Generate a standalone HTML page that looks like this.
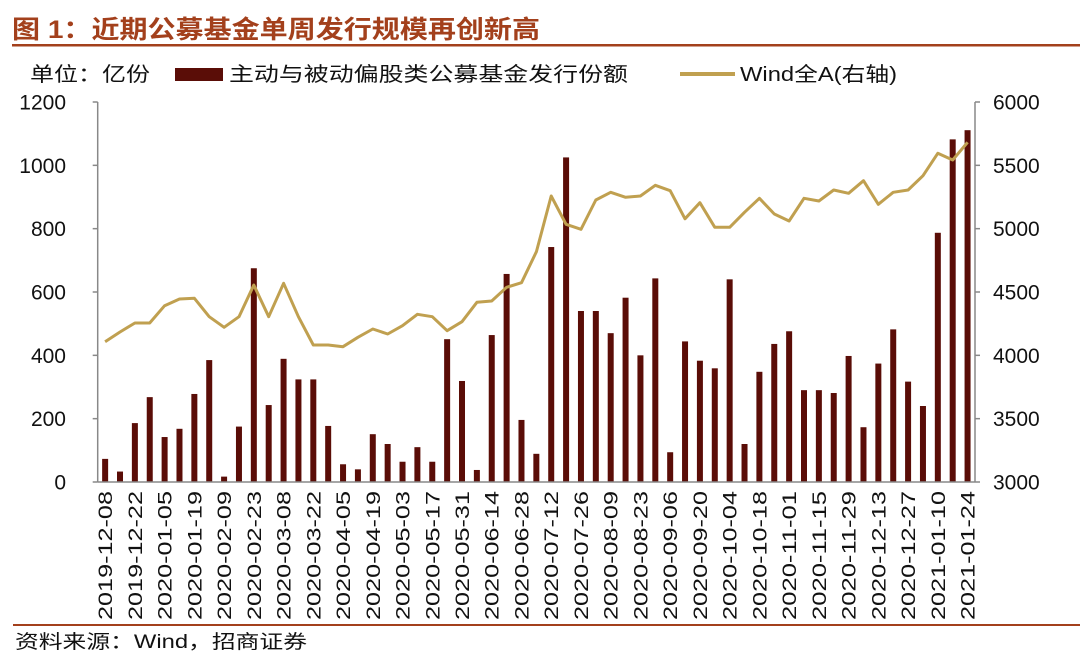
<!DOCTYPE html>
<html><head><meta charset="utf-8"><style>
html,body{margin:0;padding:0;background:#fff;width:1080px;height:663px;overflow:hidden}
svg text{font-family:"Liberation Sans","Noto Sans CJK SC",sans-serif}
</style></head><body>
<svg id="s" width="1080" height="663" viewBox="0 0 1080 663" xmlns="http://www.w3.org/2000/svg">
<text x="12" y="38" font-size="25" font-weight="bold" fill="#a3401c" textLength="528" lengthAdjust="spacingAndGlyphs">图 1：近期公募基金单周发行规模再创新高</text>
<rect x="12" y="44" width="1068" height="2.5" fill="#a3401c"/>
<text x="30" y="81" font-size="20" fill="#111" textLength="120" lengthAdjust="spacingAndGlyphs">单位：亿份</text>
<rect x="175" y="68" width="48" height="13" fill="#5a0d07"/>
<text x="229" y="81" font-size="20" fill="#111" textLength="399" lengthAdjust="spacingAndGlyphs">主动与被动偏股类公募基金发行份额</text>
<rect x="680" y="72" width="55" height="4" fill="#c0a050"/>
<text x="740" y="81" font-size="20" fill="#111" textLength="157" lengthAdjust="spacingAndGlyphs">Wind全A(右轴)</text>
<g id="g"></g>
<rect x="13" y="624" width="1067" height="2" fill="#a3401c"/>
<text x="15" y="648" font-size="19" fill="#111" textLength="292" lengthAdjust="spacingAndGlyphs">资料来源：Wind，招商证券</text>
</svg>
<script>
var bars=[73,33,186,268,142,168,278,385,17,175,675,243,389,324,324,177,56,40,151,120,64,110,64,451,319,38,464,657,196,89,742,1025,540,540,470,582,400,643,94,444,383,359,640,120,348,436,476,290,290,281,398,173,374,482,317,240,787,1082,1111];
var ly=[341.7,332,323,323,305.7,299,298.3,316.7,327.3,316.7,285,316.7,283.3,316.7,345,345,346.7,337.3,329,334,325.7,314.3,316.7,330.7,321.7,302.3,301,287.3,282.7,251.7,196,224.3,229.3,200,192.3,197.3,196,185.3,190.7,218.8,202.7,227.3,227.3,212.3,198.3,214,221,198.3,201,190,193.3,180.7,204.3,192.3,190,175.7,153.3,160,142.3];
var labels=["2019-12-08","2019-12-22","2020-01-05","2020-01-19","2020-02-09","2020-02-23","2020-03-08","2020-03-22","2020-04-05","2020-04-19","2020-05-03","2020-05-17","2020-05-31","2020-06-14","2020-06-28","2020-07-12","2020-07-26","2020-08-09","2020-08-23","2020-09-06","2020-09-20","2020-10-04","2020-10-18","2020-11-01","2020-11-15","2020-11-29","2020-12-13","2020-12-27","2021-01-10","2021-01-24"];
var L=97.7,R=975,B=482,T=102,sp=(R-L)/59,h='';
function X(i){return L+sp*(i+0.5);}
for(var k=0;k<=6;k++){var y=B-k*(B-T)/6;
h+='<line x1="'+(L-5)+'" y1="'+y+'" x2="'+L+'" y2="'+y+'" stroke="#888" stroke-width="1.5"/>';
h+='<line x1="'+R+'" y1="'+y+'" x2="'+(R+5)+'" y2="'+y+'" stroke="#888" stroke-width="1.5"/>';
h+='<text x="66" y="'+(y+7.5)+'" font-size="21" text-anchor="end" fill="#111">'+(k*200)+'</text>';
h+='<text x="993" y="'+(y+7.5)+'" font-size="21" fill="#111">'+(3000+k*500)+'</text>';}
h+='<line x1="'+L+'" y1="'+T+'" x2="'+L+'" y2="'+B+'" stroke="#888" stroke-width="1.5"/>';
h+='<line x1="'+R+'" y1="'+T+'" x2="'+R+'" y2="'+B+'" stroke="#888" stroke-width="1.5"/>';
for(var i=0;i<bars.length;i++){var bh=bars[i]*(B-T)/1200;
h+='<rect x="'+(X(i)-3)+'" y="'+(B-bh)+'" width="6" height="'+bh+'" fill="#5a0d07"/>';}
h+='<line x1="'+L+'" y1="'+B+'" x2="'+R+'" y2="'+B+'" stroke="#888" stroke-width="1.5"/>';
var p='';for(i=0;i<ly.length;i++)p+=(i?'L':'M')+X(i).toFixed(1)+' '+ly[i];
h+='<path d="'+p+'" fill="none" stroke="#c0a050" stroke-width="3" stroke-linejoin="round"/>';
for(i=0;i<labels.length;i++){var x=X(2*i)+7;
h+='<text transform="translate('+x.toFixed(1)+',491) rotate(-90)" font-size="19" text-anchor="end" fill="#111" textLength="129" lengthAdjust="spacingAndGlyphs">'+labels[i]+'</text>';}
document.getElementById('g').innerHTML=h;
</script>
</body></html>
